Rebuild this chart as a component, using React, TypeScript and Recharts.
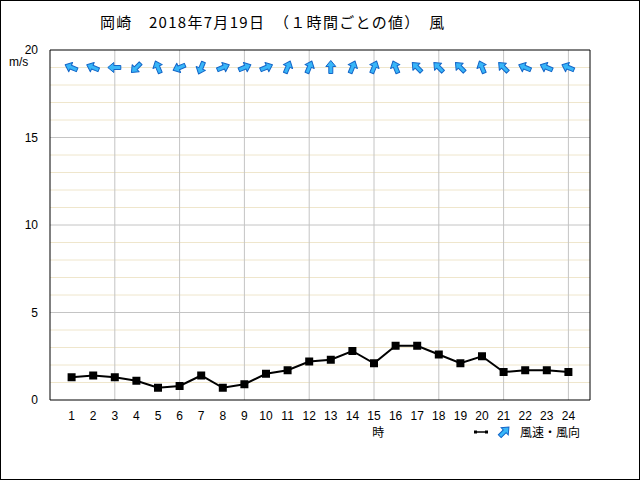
import React from 'react';
import {
  ComposedChart,
  Line,
  Scatter,
  XAxis,
  YAxis,
  ReferenceLine,
} from 'recharts';

// hours of the day
const hours = [1, 2, 3, 4, 5, 6, 7, 8, 9, 10, 11, 12, 13, 14, 15, 16, 17, 18, 19, 20, 21, 22, 23, 24];

// 風速 (m/s)
const windSpeed = [1.3, 1.4, 1.3, 1.1, 0.7, 0.8, 1.4, 0.7, 0.9, 1.5, 1.7, 2.2, 2.3, 2.8, 2.1, 3.1, 3.1, 2.6, 2.1, 2.5, 1.6, 1.7, 1.7, 1.6];

// 風向 (direction the wind blows from)
const windDir = [
  '東南東', '東南東', '東', '北東', '南南東', '東北東', '北北東', '西南西',
  '西南西', '西南西', '南南西', '南南西', '南', '南南西', '南南西', '南南東',
  '南東', '南東', '南東', '南南東', '南東', '東南東', '東南東', '東南東',
];

const compass = ['北', '北北東', '北東', '東北東', '東', '東南東', '南東', '南南東', '南', '南南西', '南西', '西南西', '西', '西北西', '北西', '北北西'];

const yTicks = [0, 5, 10, 15, 20];
const xGridHours = [3, 6, 9, 12, 15, 18, 21, 24];
const minorLines = [1, 2, 3, 4, 6, 7, 8, 9, 11, 12, 13, 14, 16, 17, 18, 19];
const ARROW_ROW = 19;

const chartData = hours.map((h, i) => ({
  hour: h,
  speed: windSpeed[i],
  arrowY: ARROW_ROW,
  // arrow points downwind
  angle: (compass.indexOf(windDir[i]) * 22.5 + 180) % 360,
}));

const FONT = '"Liberation Sans", "Noto Sans CJK JP", sans-serif';
const JP = '"Noto Sans CJK JP", sans-serif';

const arrowPath = 'M0,-7 L5,-1 L2,-1 L2,6 L-2,6 L-2,-1 L-5,-1 Z';

const WindArrow = (props: any) => {
  const { cx, cy, payload } = props;
  if (cx == null || cy == null) return null;
  return (
    <path
      d={arrowPath}
      transform={`translate(${cx},${cy}) rotate(${payload.angle})`}
      fill="#38b6f8"
      stroke="#1466c8"
      strokeWidth={1}
      strokeLinejoin="round"
    />
  );
};

const SquareDot = (props: any) => {
  const { cx, cy } = props;
  if (cx == null || cy == null) return null;
  return <rect x={cx - 4} y={cy - 4} width={8} height={8} fill="#000" />;
};

const HourLabel = (props: any) => {
  const { viewBox } = props;
  const x = viewBox.x + viewBox.width * 0.608;
  return (
    <text x={x} y={viewBox.y + 37} textAnchor="middle" fontFamily={JP} fontSize={12} fill="#000">
      時
    </text>
  );
};

export default function App() {
  return (
    <div style={{ position: 'absolute', left: 0, top: 0, width: 640, height: 480, background: '#fff' }}>
      <div
        style={{
          position: 'absolute',
          left: 100,
          top: 11,
          fontFamily: JP,
          fontSize: 15,
          color: '#000',
          whiteSpace: 'pre',
          letterSpacing: 1.3,
        }}
      >
        岡崎　2018年7月19日　（１時間ごとの値）　風
      </div>
      <div style={{ position: 'absolute', left: 9, top: 55, fontFamily: FONT, fontSize: 12 }}>m/s</div>
      <ComposedChart
        width={640}
        height={480}
        data={chartData}
        margin={{ top: 50, right: 50, bottom: 50, left: 10 }}
      >
        {minorLines.map((v) => (
          <ReferenceLine key={`m${v}`} y={v} stroke="#efe6cc" strokeWidth={1} />
        ))}
        {yTicks.slice(1, -1).map((v) => (
          <ReferenceLine key={`y${v}`} y={v} stroke="#c4c4c4" strokeWidth={1} />
        ))}
        {xGridHours.map((h) => (
          <ReferenceLine key={`x${h}`} x={h} stroke="#c4c4c4" strokeWidth={1} />
        ))}
        <XAxis
          dataKey="hour"
          type="number"
          domain={[0, 25]}
          ticks={hours}
          interval={0}
          height={30}
          axisLine={{ stroke: '#000' }}
          tickLine={false}
          tick={{ fill: '#000', fontSize: 12, fontFamily: FONT }}
          tickMargin={5}
          label={<HourLabel />}
        />
        <YAxis
          type="number"
          domain={[0, 20]}
          ticks={yTicks}
          width={40}
          axisLine={{ stroke: '#000' }}
          tickLine={false}
          tick={{ fill: '#000', fontSize: 12, fontFamily: FONT }}
          tickMargin={6}
        />
        <ReferenceLine y={20} stroke="#000" />
        <ReferenceLine x={25} stroke="#000" />
        <Line
          dataKey="speed"
          stroke="#000"
          strokeWidth={2}
          dot={<SquareDot />}
          activeDot={false}
          isAnimationActive={false}
        />
        <Scatter dataKey="arrowY" shape={<WindArrow />} isAnimationActive={false} />
      </ComposedChart>
      {/* legend */}
      <div
        style={{
          position: 'absolute',
          left: 474,
          top: 425,
          display: 'flex',
          alignItems: 'center',
          fontFamily: JP,
          fontSize: 12,
          lineHeight: '14px',
          color: '#000',
        }}
      >
        <svg width={14} height={10} style={{ marginRight: 8 }}>
          <line x1={1} y1={5} x2={13} y2={5} stroke="#000" strokeWidth={1.5} />
          <rect x={0} y={3.5} width={3} height={3} fill="#000" />
          <rect x={11} y={3.5} width={3} height={3} fill="#000" />
        </svg>
        <svg width={16} height={14} style={{ marginRight: 8 }}>
          <path d={arrowPath} transform="translate(8,7) rotate(45)" fill="#38b6f8" stroke="#1466c8" strokeWidth={1} />
        </svg>
        <span>風速・風向</span>
      </div>
      <div
        style={{
          position: 'absolute',
          left: 0,
          top: 0,
          width: 640,
          height: 480,
          boxSizing: 'border-box',
          border: '1px solid #000',
          pointerEvents: 'none',
        }}
      />
    </div>
  );
}
